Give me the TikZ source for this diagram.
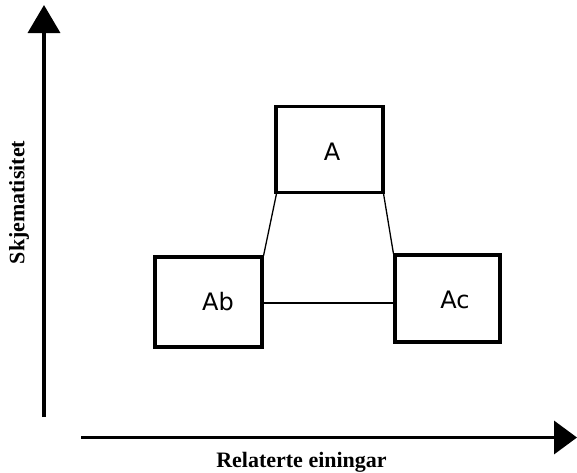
\documentclass[tikz,border=0pt]{standalone}
\usepackage{fontspec}
\setmainfont{Liberation Serif}
\newfontfamily\boxfont{DejaVu Sans}
\usepackage{tikz}
\usetikzlibrary{arrows.meta,positioning}

\begin{document}
\begin{tikzpicture}[
        x=1pt, y=-1pt,
        box/.style={draw, line width=3.2pt, minimum width=105pt, minimum height=86pt, inner sep=0pt},
        lbl/.style={font=\boxfont\fontsize{24}{28}\selectfont},
        axis/.style={line width=3.6pt, -{Triangle[length=28pt, width=32pt]}},
        axlbl/.style={font=\fontsize{22}{26}\selectfont\bfseries},
        link/.style={line width=1.3pt}
    ]
        \useasboundingbox (0,0) rectangle (577,472);
        % axes
        \coordinate (ybot) at (44,417);
        \coordinate (ytop) at (44,5);
        \coordinate (xleft) at (81,437.5);
        \coordinate (xright) at (577,437.5);
        \draw[axis] (ybot) -- (ytop);
        \draw[axis, -{Triangle[length=23pt, width=33pt]}] (xleft) -- (xright);
        \node[axlbl, rotate=90] (ylab) at (19,202.5) {Skjematisitet};
        \node[axlbl, anchor=base] (xlab) at (301.5,467) {Relaterte einingar};
        % boxes
        \node[box, minimum width=107pt] (a) at (329.5,149.5) {};
        \node[lbl] (atxt) at (332,152) {A};
        \node[box, minimum width=107pt, minimum height=90pt] (ab) at (208.5,302) {};
        \node[lbl] (abtxt) at (218,302) {Ab};
        \node[box, minimum width=105pt, minimum height=87pt] (ac) at (447.5,298.5) {};
        \node[lbl] (actxt) at (455,300) {Ac};
        \draw[link] ([xshift=2pt]a.south west) -- (ab.north east);
        \draw[link] ([xshift=-1pt]a.south east) -- (ac.north west);
        \draw[link] ([yshift=-1pt]ab.east) -- ([yshift=-1pt]ab.east -| ac.west);
    \end{tikzpicture}
\end{document}
